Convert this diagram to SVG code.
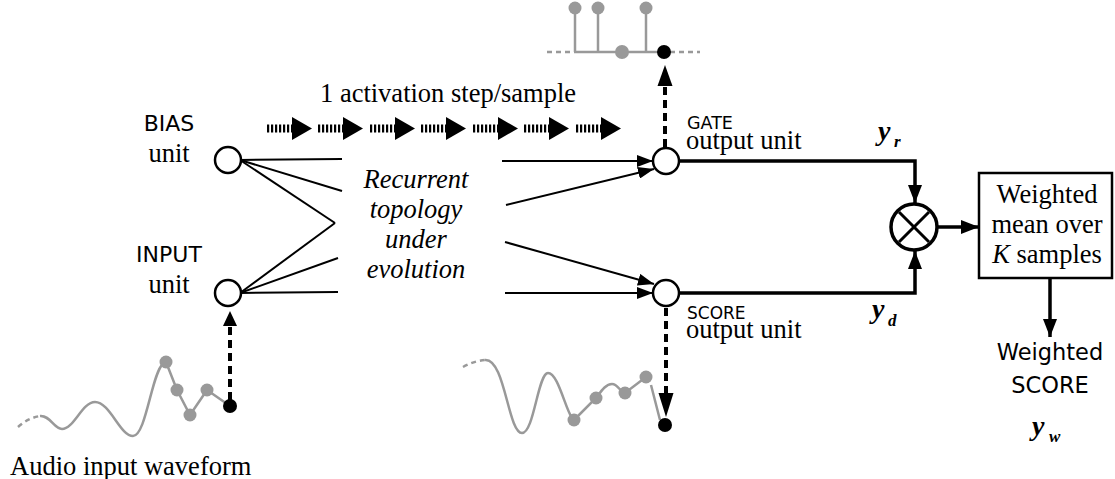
<svg xmlns="http://www.w3.org/2000/svg" width="1115" height="479" viewBox="0 0 1115 479">
<style>
.serif{font-family:"Liberation Serif","Times New Roman",serif;font-size:26.5px;fill:#000}
.sans{font-family:"DejaVu Sans","Liberation Sans",sans-serif;fill:#000}
.node{fill:#fff;stroke:#000;stroke-width:2.5}
.thin{stroke:#000;stroke-width:2;fill:none}
.thick{stroke:#000;stroke-width:3.5;fill:none}
.dotv{stroke:#000;stroke-width:4;stroke-dasharray:8 5;fill:none}
.step{stroke:#000;stroke-width:8;stroke-dasharray:2.2 1.8;fill:none}
.gray{stroke:#999;stroke-width:2.5;fill:none}
.grayd{stroke:#999;stroke-width:2.5;fill:none;stroke-dasharray:5 4}
.gdot{fill:#999}
.bdot{fill:#000}
.var{font-family:"Liberation Serif","Times New Roman",serif;font-style:italic;font-weight:bold;fill:#000}
</style>
<defs>
<marker id="ah" markerUnits="userSpaceOnUse" markerWidth="16" markerHeight="12" refX="16" refY="6" orient="auto">
<path d="M0,0 L16,6 L0,12 Z" fill="#000"/>
</marker>
<marker id="ahb" markerUnits="userSpaceOnUse" markerWidth="18" markerHeight="14" refX="18" refY="7" orient="auto">
<path d="M0,0 L18,7 L0,14 Z" fill="#000"/>
</marker>
</defs>

<!-- activation step arrows -->
<g id="steps">
<line class="step" x1="267" y1="128.5" x2="293" y2="128.5"/><path d="M292,117 L312,128.5 L292,140 Z"/>
<line class="step" x1="318" y1="128.5" x2="344" y2="128.5"/><path d="M343,117 L363,128.5 L343,140 Z"/>
<line class="step" x1="370" y1="128.5" x2="396" y2="128.5"/><path d="M395,117 L415,128.5 L395,140 Z"/>
<line class="step" x1="421" y1="128.5" x2="447" y2="128.5"/><path d="M446,117 L466,128.5 L446,140 Z"/>
<line class="step" x1="473" y1="128.5" x2="499" y2="128.5"/><path d="M498,117 L518,128.5 L498,140 Z"/>
<line class="step" x1="524" y1="128.5" x2="550" y2="128.5"/><path d="M549,117 L569,128.5 L549,140 Z"/>
<line class="step" x1="576" y1="128.5" x2="602" y2="128.5"/><path d="M601,117 L621,128.5 L601,140 Z"/>
<text class="serif" x="320" y="102" font-size="24.6">1 activation step/sample</text>
</g>

<!-- connectors -->
<g id="connectors">
<line class="thin" x1="240" y1="160" x2="342" y2="159"/>
<line class="thin" x1="240" y1="160" x2="342" y2="191"/>
<line class="thin" x1="240" y1="160" x2="335" y2="223"/>
<line class="thin" x1="240" y1="293" x2="335" y2="223"/>
<line class="thin" x1="240" y1="293" x2="338" y2="258"/>
<line class="thin" x1="240" y1="293" x2="338" y2="292"/>
<line class="thin" x1="502" y1="161" x2="653" y2="161" marker-end="url(#ah)"/>
<line class="thin" x1="506" y1="205" x2="654" y2="169" marker-end="url(#ah)"/>
<line class="thin" x1="505" y1="242" x2="654" y2="284" marker-end="url(#ah)"/>
<line class="thin" x1="505" y1="293" x2="653" y2="293" marker-end="url(#ah)"/>
<path class="thick" d="M679,161 H915 V203" marker-end="url(#ahb)"/>
<path class="thick" d="M679,293 H915 V251" marker-end="url(#ahb)"/>
<line class="thick" x1="938" y1="227" x2="979" y2="227" marker-end="url(#ahb)"/>
<line class="thick" x1="1050" y1="279" x2="1050" y2="337" marker-end="url(#ahb)"/>
<!-- dotted sample arrows -->
<line class="dotv" x1="230" y1="400" x2="230" y2="325"/>
<path d="M223,326 L230,311 L237,326 Z"/>
<line class="dotv" x1="665" y1="147" x2="665" y2="84"/>
<path d="M657.5,86 L665,65 L672.5,86 Z"/>
<line class="dotv" x1="666" y1="308" x2="666" y2="394"/>
<path d="M658.5,393 L666,417 L673.5,393 Z"/>
</g>

<!-- BIAS -->
<g id="bias">
<circle class="node" cx="228" cy="160" r="13"/>
<text class="sans" x="169" y="131" font-size="22" text-anchor="middle">BIAS</text>
<text class="serif" x="169" y="162" text-anchor="middle">unit</text>
</g>

<!-- INPUT -->
<g id="input">
<circle class="node" cx="228" cy="293" r="13"/>
<text class="sans" x="169" y="262" font-size="22" text-anchor="middle">INPUT</text>
<text class="serif" x="169" y="293" text-anchor="middle">unit</text>
</g>

<!-- recurrent topology -->
<g id="topology">
<text class="serif" font-style="italic" text-anchor="middle" x="416" y="188">Recurrent</text>
<text class="serif" font-style="italic" text-anchor="middle" x="416" y="218">topology</text>
<text class="serif" font-style="italic" text-anchor="middle" x="416" y="248">under</text>
<text class="serif" font-style="italic" text-anchor="middle" x="416" y="278">evolution</text>
</g>

<!-- GATE -->
<g id="gate">
<circle class="node" cx="666" cy="161" r="13"/>
<text class="sans" x="687" y="129" font-size="17.5">GATE</text>
<text class="serif" x="686" y="149" font-size="25">output unit</text>
<text class="var" x="878" y="140" font-size="28">y</text>
<text class="var" x="894" y="147" font-size="17">r</text>
</g>

<!-- SCORE -->
<g id="score">
<circle class="node" cx="666" cy="293" r="13"/>
<text class="sans" x="687" y="319" font-size="17">SCORE</text>
<text class="serif" x="686" y="338" font-size="25">output unit</text>
<text class="var" x="872" y="318" font-size="28">y</text>
<text class="var" x="888" y="326" font-size="17">d</text>
</g>

<!-- multiplier -->
<g id="multiplier">
<circle cx="914" cy="227" r="23" fill="#fff" stroke="#000" stroke-width="3.5"/>
<line x1="899" y1="212" x2="929" y2="242" stroke="#000" stroke-width="3"/>
<line x1="929" y1="212" x2="899" y2="242" stroke="#000" stroke-width="3"/>
</g>

<!-- weighted mean box -->
<g id="mean">
<rect x="979" y="173" width="133" height="105" fill="#fff" stroke="#000" stroke-width="2.5"/>
<text class="serif" x="1047" y="203" text-anchor="middle">Weighted</text>
<text class="serif" x="1047" y="233" text-anchor="middle">mean over</text>
<text class="serif" x="1047" y="263" text-anchor="middle"><tspan font-style="italic">K</tspan> samples</text>
</g>

<!-- weighted score -->
<g id="weighted-score">
<text class="sans" x="1050" y="360" font-size="22.5" text-anchor="middle">Weighted</text>
<text class="sans" x="1050" y="393" font-size="22.5" text-anchor="middle">SCORE</text>
<text class="var" x="1032" y="435" font-size="28">y</text>
<text class="var" x="1049" y="442" font-size="17">w</text>
</g>

<!-- gate output samples -->
<g id="gate-samples">
<line class="grayd" x1="547" y1="52" x2="575" y2="52"/>
<line class="gray" x1="575" y1="52" x2="660" y2="52"/>
<line class="grayd" x1="670" y1="52" x2="700" y2="52"/>
<line class="gray" x1="575" y1="52" x2="575" y2="8"/>
<line class="gray" x1="598" y1="52" x2="598" y2="8"/>
<line class="gray" x1="646" y1="52" x2="646" y2="8"/>
<circle class="gdot" cx="575" cy="8" r="6.5"/>
<circle class="gdot" cx="598" cy="8" r="6.5"/>
<circle class="gdot" cx="646" cy="8" r="6.5"/>
<circle class="gdot" cx="622" cy="52" r="7"/>
<circle class="bdot" cx="664" cy="52" r="7"/>
</g>

<!-- input waveform -->
<g id="input-waveform">
<path class="grayd" d="M18,427 Q28,418 40,416"/>
<path class="gray" d="M40,416 C50,415 54,429 62,429 C74,429 82,402 95,402 C110,402 120,436 133,436 C146,436 152,372 163,364"/>
<path class="gray" d="M166,362 L177,390 L190,415 L207,390 L230,406"/>
<circle class="gdot" cx="166" cy="362" r="6.5"/>
<circle class="gdot" cx="177" cy="390" r="6.5"/>
<circle class="gdot" cx="190" cy="415" r="6.5"/>
<circle class="gdot" cx="207" cy="390" r="6.5"/>
<circle class="bdot" cx="230" cy="406" r="7"/>
<text class="serif" x="10" y="475">Audio input waveform</text>
</g>

<!-- score output waveform -->
<g id="score-waveform">
<path class="grayd" d="M463,367 Q474,361 485,360"/>
<path class="gray" d="M485,360 C505,358 508,433 522,433 C534,433 538,373 548,373 C558,373 565,408 572,418"/>
<path class="gray" d="M574,420 L596,398 C602,390 606,384 612,384 C618,384 620,392 625,393 L646,377 M651,385 L660,420"/>
<circle class="gdot" cx="574" cy="420" r="6.5"/>
<circle class="gdot" cx="596" cy="398" r="6.5"/>
<circle class="gdot" cx="625" cy="393" r="6.5"/>
<circle class="gdot" cx="646" cy="377" r="6.5"/>
<circle class="bdot" cx="665" cy="425" r="7"/>
</g>
</svg>
